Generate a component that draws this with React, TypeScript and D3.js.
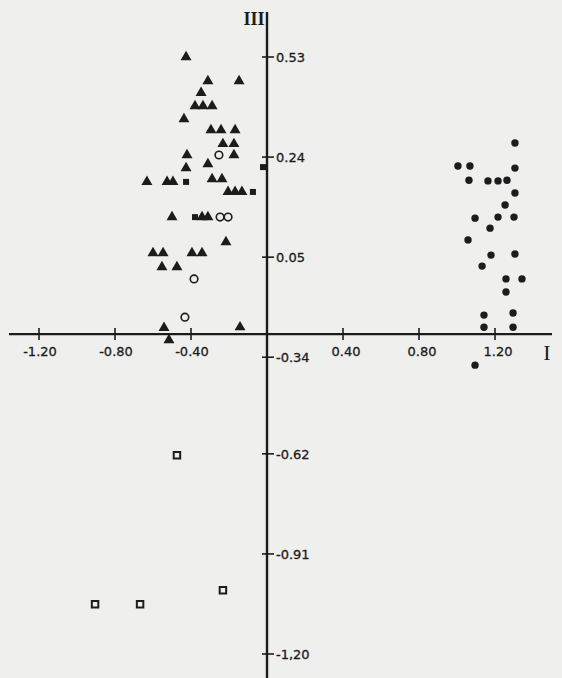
import React, { useEffect, useRef } from "react";
import * as d3 from "d3";

// axis I (horizontal) and III (vertical) ticks
const xTicks = [-1.2, -0.8, -0.4, 0.4, 0.8, 1.2];
const xTickLabels = ["-1.20", "-0.80", "-0.40", "0.40", "0.80", "1.20"];
const yTicks = [0.53, 0.24, -0.05, -0.34, -0.62, -0.91, -1.2];
const yTickLabels = ["0.53", "0.24", "0.05", "-0.34", "-0.62", "-0.91", "-1,20"];
const xAxisAt = -0.273;

// [axis I, axis III]
const triangles = [
  [-0.426, 0.53], [-0.311, 0.46], [-0.147, 0.46], [-0.347, 0.426],
  [-0.379, 0.388], [-0.337, 0.388], [-0.289, 0.388], [-0.437, 0.35],
  [-0.295, 0.318], [-0.242, 0.318], [-0.168, 0.318], [-0.232, 0.278],
  [-0.174, 0.278], [-0.421, 0.246], [-0.174, 0.246], [-0.426, 0.208],
  [-0.311, 0.22], [-0.632, 0.168], [-0.526, 0.168], [-0.495, 0.168],
  [-0.289, 0.176], [-0.237, 0.176], [-0.205, 0.139], [-0.168, 0.139],
  [-0.132, 0.139], [-0.5, 0.066], [-0.342, 0.066], [-0.311, 0.066],
  [-0.216, -0.006], [-0.6, -0.038], [-0.547, -0.038], [-0.395, -0.038],
  [-0.342, -0.038], [-0.553, -0.079], [-0.474, -0.079], [-0.542, -0.255],
  [-0.516, -0.29], [-0.142, -0.253],
];
const openCircles = [
  [-0.253, 0.246], [-0.247, 0.066], [-0.205, 0.066], [-0.384, -0.113], [-0.432, -0.224],
];
const filledSquares = [
  [-0.021, 0.211], [-0.426, 0.168], [-0.074, 0.139], [-0.379, 0.066],
];
const openSquares = [
  [-0.474, -0.624], [-0.905, -1.056], [-0.668, -1.056], [-0.232, -1.015],
];
const dots = [
  [1.305, 0.281], [1.005, 0.214], [1.068, 0.214], [1.305, 0.208], [1.063, 0.173],
  [1.163, 0.171], [1.216, 0.171], [1.263, 0.173], [1.305, 0.136], [1.253, 0.101],
  [1.095, 0.063], [1.216, 0.066], [1.3, 0.066], [1.174, 0.034], [1.058, 0.0],
  [1.179, -0.044], [1.305, -0.041], [1.132, -0.076], [1.258, -0.113], [1.342, -0.113],
  [1.258, -0.151], [1.142, -0.218], [1.295, -0.212], [1.142, -0.253], [1.295, -0.253],
  [1.095, -0.363],
];

const W = 562;
const H = 678;
const ink = "#1c1c1c";

export default function App() {
  const ref = useRef<SVGSVGElement>(null);

  useEffect(() => {
    const svg = d3.select(ref.current);
    svg.selectAll("*").remove();

    const x = d3.scaleLinear().domain([-1.2, 1.2]).range([39, 495]);
    const y = d3.scaleLinear().domain([0.53, -1.2]).range([57, 654]);
    const x0 = x(0);
    const yAx = y(xAxisAt);

    svg.append("rect").attr("width", W).attr("height", H).attr("fill", "#efefed");

    // axes
    svg.append("line")
      .attr("x1", 9).attr("x2", 552).attr("y1", yAx).attr("y2", yAx)
      .attr("stroke", ink).attr("stroke-width", 2.4);
    svg.append("line")
      .attr("x1", x0).attr("x2", x0).attr("y1", 12).attr("y2", H)
      .attr("stroke", ink).attr("stroke-width", 2.4);

    svg.selectAll(".xt")
      .data(xTicks)
      .enter()
      .append("line")
      .attr("x1", (d) => x(d)).attr("x2", (d) => x(d))
      .attr("y1", yAx - 6).attr("y2", yAx + 6)
      .attr("stroke", ink).attr("stroke-width", 1.6);

    svg.selectAll(".xl")
      .data(xTicks)
      .enter()
      .append("text")
      .attr("x", (d) => x(d) + (d > 0 ? 3 : 1))
      .attr("y", yAx + 22)
      .attr("text-anchor", "middle")
      .attr("font-family", "DejaVu Sans")
      .attr("font-size", 13)
      .attr("stroke", ink).attr("stroke-width", 0.3)
      .attr("fill", ink)
      .text((d, i) => xTickLabels[i]);

    svg.selectAll(".yt")
      .data(yTicks)
      .enter()
      .append("line")
      .attr("x1", x0 - 5).attr("x2", x0 + 7)
      .attr("y1", (d) => y(d)).attr("y2", (d) => y(d))
      .attr("stroke", ink).attr("stroke-width", 1.6);

    svg.selectAll(".yl")
      .data(yTicks)
      .enter()
      .append("text")
      .attr("x", x0 + 9)
      .attr("y", (d) => y(d) + 5)
      .attr("font-family", "DejaVu Sans")
      .attr("font-size", 13)
      .attr("stroke", ink).attr("stroke-width", 0.3)
      .attr("fill", ink)
      .text((d, i) => yTickLabels[i]);

    svg.append("text")
      .attr("x", 547).attr("y", yAx + 26)
      .attr("text-anchor", "middle")
      .attr("font-family", "Liberation Serif")
      .attr("font-size", 22)
      .attr("fill", ink)
      .text("I");
    svg.append("text")
      .attr("x", 254).attr("y", 25)
      .attr("text-anchor", "middle")
      .attr("font-family", "Liberation Serif")
      .attr("font-weight", "bold")
      .attr("font-size", 18)
      .attr("fill", ink)
      .text("III");

    // marks
    const tri = d3.symbol().type(d3.symbolTriangle).size(52);
    svg.selectAll(".tri")
      .data(triangles)
      .enter()
      .append("path")
      .attr("d", tri)
      .attr("transform", (d) => "translate(" + x(d[0]) + "," + y(d[1]) + ")")
      .attr("fill", ink);

    svg.selectAll(".oc")
      .data(openCircles)
      .enter()
      .append("circle")
      .attr("cx", (d) => x(d[0])).attr("cy", (d) => y(d[1]))
      .attr("r", 3.8)
      .attr("fill", "none").attr("stroke", ink).attr("stroke-width", 1.6);

    const sq = d3.symbol().type(d3.symbolSquare);
    svg.selectAll(".fs")
      .data(filledSquares)
      .enter()
      .append("path")
      .attr("d", sq.size(36))
      .attr("transform", (d) => "translate(" + x(d[0]) + "," + y(d[1]) + ")")
      .attr("fill", ink);

    svg.selectAll(".os")
      .data(openSquares)
      .enter()
      .append("path")
      .attr("d", d3.symbol().type(d3.symbolSquare).size(42))
      .attr("transform", (d) => "translate(" + x(d[0]) + "," + y(d[1]) + ")")
      .attr("fill", "none").attr("stroke", ink).attr("stroke-width", 2);

    svg.selectAll(".dot")
      .data(dots)
      .enter()
      .append("circle")
      .attr("cx", (d) => x(d[0])).attr("cy", (d) => y(d[1]))
      .attr("r", 3.7)
      .attr("fill", ink);
  }, []);

  return (
    <svg
      ref={ref}
      width={W}
      height={H}
      style={{ position: "absolute", left: 0, top: 0 }}
    ></svg>
  );
}
